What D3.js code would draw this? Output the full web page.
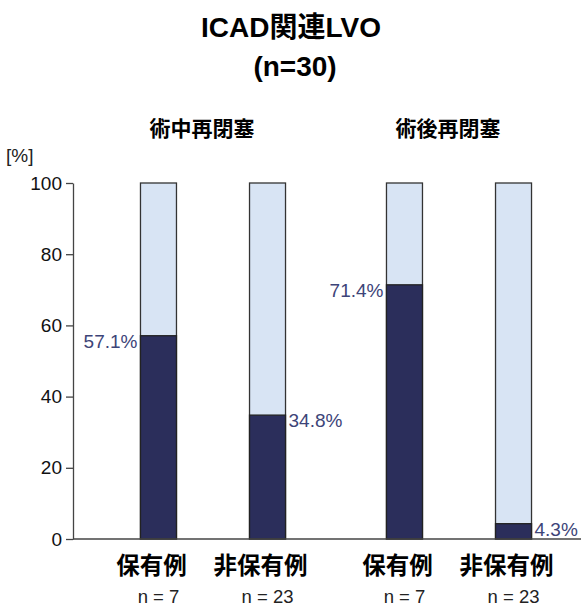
<!DOCTYPE html>
<html lang="ja">
<head>
<meta charset="UTF-8">
<title>ICAD関連LVO</title>
<script src="https://cdn.jsdelivr.net/npm/d3@7"></script>
<style>
  body { margin: 0; background: #fff; }
  text { font-family: "Liberation Sans", Arial, "Noto Sans CJK JP", sans-serif; }
</style>
</head>
<body>
<svg id="chart" width="581" height="606"></svg>
<script>
// data
var groups = ["術中再閉塞", "術後再閉塞"];
var categories = ["保有例", "非保有例"];
var nLabels = [["n = 7", "n = 23"], ["n = 7", "n = 23"]];
var values = [[57.1, 34.8], [71.4, 4.3]];
var labelSide = ["left", "right"];
var yTicks = [0, 20, 40, 60, 80, 100];

var svg = d3.select("#chart");
var jp = '"Noto Sans CJK JP", "Liberation Sans", sans-serif';

var y = d3.scaleLinear().domain([0, 100]).range([539, 183]);
var xGroup = d3.scaleBand().domain(groups).range([90, 582]);
var xCat = d3.scalePoint().domain(categories).range([0, xGroup.bandwidth()]).padding(0.628);
var barW = 36;

// title
svg.append("text").attr("x", 291).attr("y", 37).attr("text-anchor", "middle")
  .attr("font-size", 28).attr("font-weight", "bold").text("ICAD関連LVO");
svg.append("text").attr("x", 295).attr("y", 76).attr("text-anchor", "middle")
  .attr("font-size", 28).attr("font-weight", "bold").text("(n=30)");

// y axis
var yAxis = d3.axisLeft(y).tickValues(yTicks).tickSize(7).tickPadding(4).tickSizeOuter(0);
var ga = svg.append("g").attr("transform", "translate(73,0)").call(yAxis);
ga.select(".domain").attr("stroke", "#444").attr("stroke-width", 1.3);
ga.selectAll(".tick line").attr("stroke", "#444").attr("stroke-width", 1.3);
ga.selectAll(".tick text").attr("font-size", 19).attr("fill", "#111")
  .style("font-family", '"Liberation Sans", Arial, sans-serif');

svg.append("text").attr("x", 6).attr("y", 162).attr("font-size", 19).attr("fill", "#222").text("[%]");

// bars
groups.forEach(function (g, gi) {
  var gx = xGroup(g);
  svg.append("text").attr("x", gx + xGroup.bandwidth() / 2 - 11).attr("y", 136)
    .attr("text-anchor", "middle").attr("font-size", 21).attr("font-weight", "bold")
    .style("font-family", jp).text(g);

  categories.forEach(function (c, ci) {
    var cx = gx + xCat(c);
    var v = values[gi][ci];
    svg.append("rect").attr("x", cx - barW / 2).attr("y", y(100))
      .attr("width", barW).attr("height", y(0) - y(100))
      .attr("fill", "#d8e4f4").attr("stroke", "#333").attr("stroke-width", 1.3);
    svg.append("rect").attr("x", cx - barW / 2).attr("y", y(v))
      .attr("width", barW).attr("height", y(0) - y(v))
      .attr("fill", "#2b2e5b").attr("stroke", "#222").attr("stroke-width", 1.3);

    var left = labelSide[ci] === "left";
    svg.append("text")
      .attr("x", left ? cx - barW / 2 - 3 : cx + barW / 2 + 3)
      .attr("y", y(v) + 12)
      .attr("text-anchor", left ? "end" : "start")
      .attr("font-size", 19).attr("fill", "#3d4478")
      .text(v.toFixed(1) + "%");

    svg.append("text").attr("x", cx - 7).attr("y", 574).attr("text-anchor", "middle")
      .attr("font-size", 23.5).attr("font-weight", "bold").style("font-family", jp).text(c);
    svg.append("text").attr("x", cx).attr("y", 603).attr("text-anchor", "middle")
      .attr("font-size", 18.5).attr("fill", "#222").text(nLabels[gi][ci]);
  });
});

// baseline
svg.append("line").attr("x1", 73).attr("x2", 581).attr("y1", y(0)).attr("y2", y(0))
  .attr("stroke", "#444").attr("stroke-width", 1.5);
</script>
</body>
</html>
